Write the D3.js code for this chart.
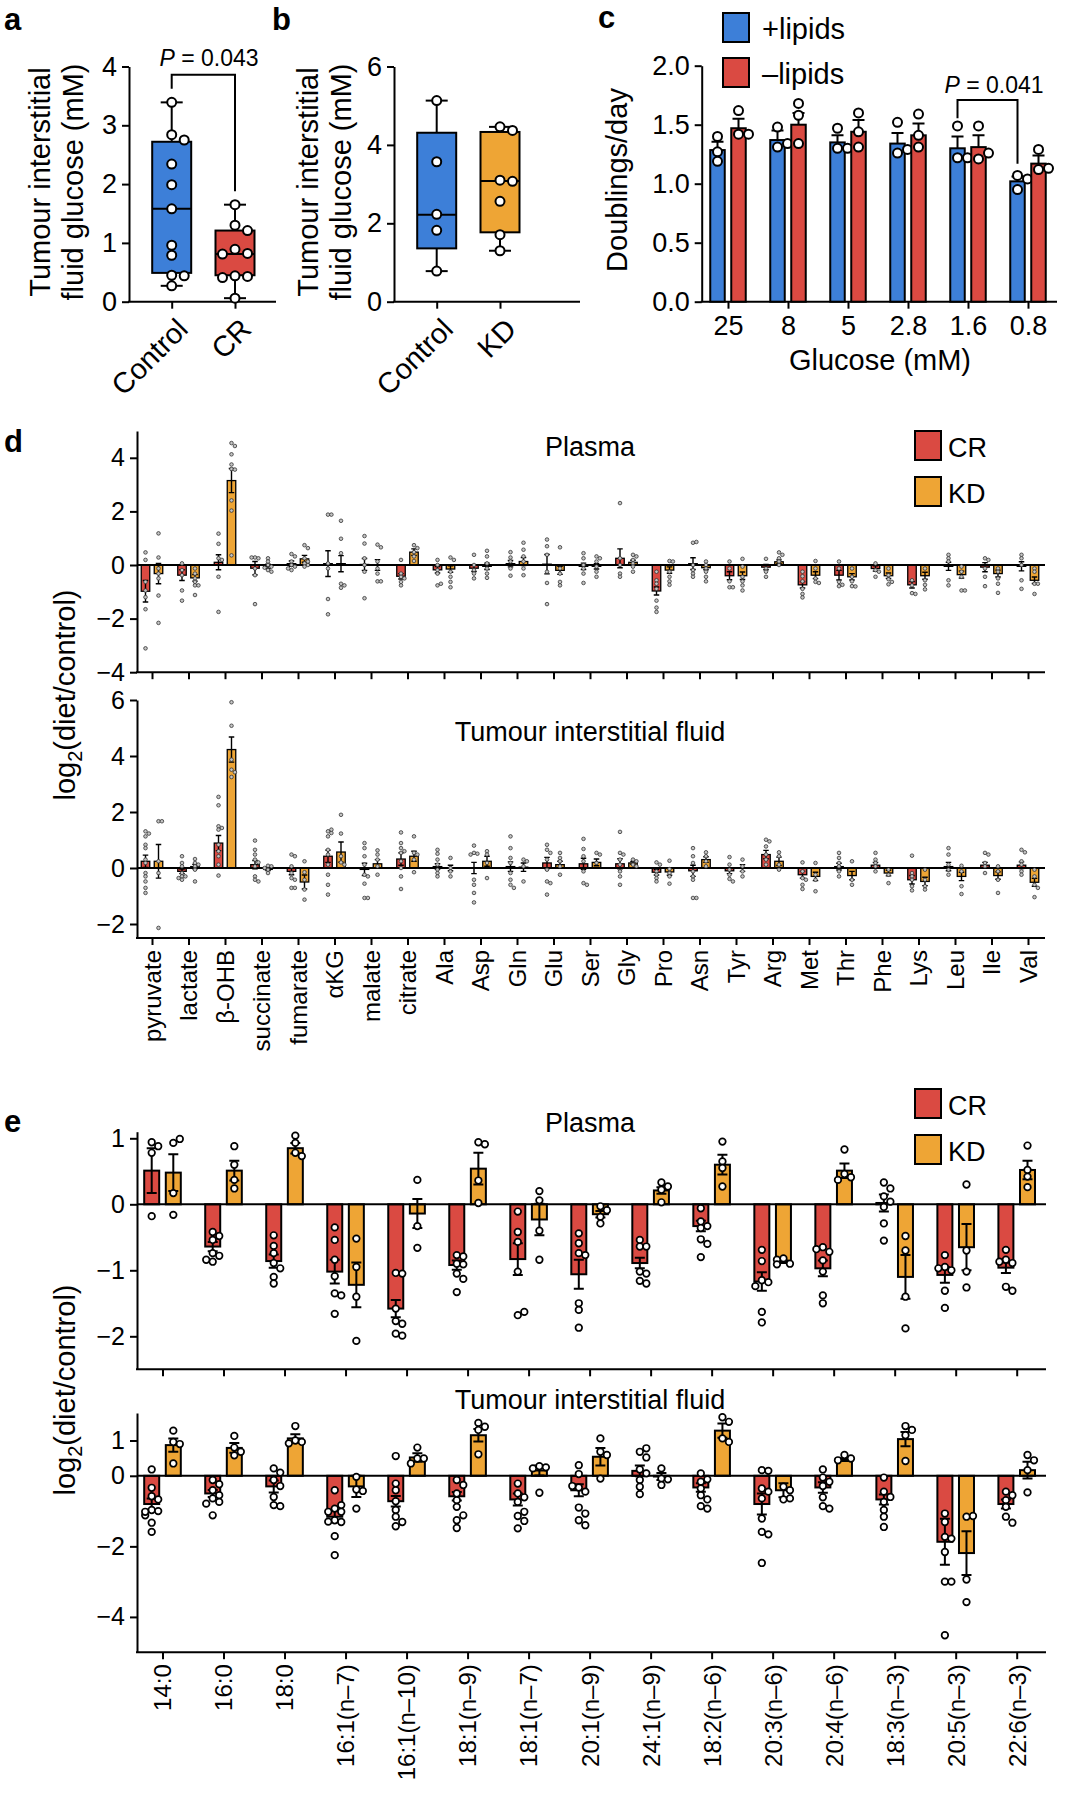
<html>
<head>
<script src="https://d3js.org/d3.v7.min.js"></script>
<style>
  body { margin: 0; background: #fff; }
</style>
</head>
<body>
<script>
// ---------- data: panel a ----------
var aGroups = ["Control", "CR"];
var aControl = [3.39, 2.84, 2.75, 2.34, 1.99, 1.58, 0.96, 0.79, 0.45, 0.44, 0.27];
var aCR = [1.65, 1.30, 1.21, 0.89, 0.82, 0.81, 0.44, 0.43, 0.41, 0.06];
var aBox = [[0.27, 0.49, 1.58, 2.72, 3.39], [0.06, 0.45, 0.81, 1.21, 1.65]]; // min q1 median q3 max
var aP = "0.043";

// ---------- data: panel b ----------
var bGroups = ["Control", "KD"];
var bControl = [5.13, 3.57, 2.23, 1.82, 0.78];
var bKD = [4.46, 4.37, 3.10, 3.07, 2.56, 1.71, 1.30];
var bBox = [[0.78, 1.36, 2.22, 4.31, 5.13], [1.30, 1.77, 3.08, 4.33, 4.46]];

// ---------- data: panel c ----------
var cGlucose = ["25", "8", "5", "2.8", "1.6", "0.8"];
var cPlusMean = [1.285, 1.37, 1.35, 1.34, 1.30, 1.02];
var cPlusSem = [0.07, 0.08, 0.06, 0.09, 0.10, 0.04];
var cPlusPts = [[1.40, 1.27, 1.19], [1.48, 1.31, 1.34], [1.47, 1.30, 1.30], [1.52, 1.26, 1.29], [1.49, 1.22, 1.22], [1.07, 1.04, 0.95]];
var cMinusMean = [1.47, 1.50, 1.44, 1.41, 1.31, 1.17];
var cMinusSem = [0.08, 0.10, 0.10, 0.10, 0.10, 0.07];
var cMinusPts = [[1.62, 1.42, 1.42], [1.68, 1.58, 1.34], [1.60, 1.44, 1.31], [1.59, 1.41, 1.31], [1.49, 1.21, 1.26], [1.29, 1.12, 1.13]];
var cP = "0.041";

// ---------- data: panel d ----------
var dCats = ["pyruvate", "lactate", "β-OHB", "succinate", "fumarate", "αKG", "malate", "citrate", "Ala", "Asp", "Gln", "Glu", "Ser", "Gly", "Pro", "Asn", "Tyr", "Arg", "Met", "Thr", "Phe", "Lys", "Leu", "Ile", "Val"];

var dPlasmaCRMean = [-0.98, -0.38, 0.10, -0.12, 0.05, 0.05, 0.02, -0.42, -0.18, -0.12, 0.05, 0.03, -0.05, 0.25, -0.97, 0.05, -0.40, -0.08, -0.74, -0.38, -0.13, -0.74, -0.05, -0.08, -0.05];
var dPlasmaCRSem = [0.40, 0.20, 0.28, 0.25, 0.10, 0.48, 0.22, 0.10, 0.12, 0.12, 0.12, 0.36, 0.12, 0.35, 0.15, 0.22, 0.15, 0.10, 0.12, 0.18, 0.10, 0.12, 0.15, 0.17, 0.17];
var dPlasmaCRPts = [
  [0.47, 0.19, -0.63, -0.95, -1.2, -1.65, -3.11], [0.06, -0.19, -0.38, -0.95, -1.33], [1.17, 0.79, 0.25, 0.19, -0.44, -1.75],
  [0.28, 0.25, 0.28, -0.13, -0.38, -1.46], [0.41, 0.32, 0.13, 0, -0.06, -0.19, -0.13], [1.88, 1.88, 0.06, -0.13, -1.27, -1.84],
  [1.08, 0.8, 0.25, 0, -0.25, -1.24], [0.19, -0.32, -0.44, -0.63, -0.76, -0.5], [0.19, 0, -0.19, -0.32, -0.76, -0.7],
  [0.38, 0, -0.19, -0.32, -0.5], [0.48, 0.28, 0.13, -0.13, -0.4], [0.95, 0.7, 0.38, -0.25, -0.67, -1.46],
  [0.44, 0.25, 0, -0.13, -0.32, -0.67], [2.31, 0.25, 0, -0.32, -0.44], [-0.25, -0.57, -0.7, -0.89, -1.33, -1.59, -1.75],
  [0.83, 0.86, 0, -0.19, -0.32, -0.44], [0.13, -0.13, -0.61, -0.83, -0.83], [0.23, -0.13, -0.25, -0.44],
  [-0.25, -0.42, -0.61, -0.89, -1.08, -1.21], [0.13, -0.13, -0.63, -0.74, -0.79], [0.06, -0.19, -0.25, -0.44],
  [-0.57, -0.76, -1.05, -1.08], [0.38, 0.25, 0.13, -0.57, -0.76], [0.25, 0.19, -0.13, -0.44, -0.79], [0.38, 0.25, 0, -0.57, -0.89]
];
var dPlasmaKDMean = [-0.32, -0.48, 3.15, -0.05, 0.23, 0.05, 0.00, 0.48, -0.15, -0.05, 0.13, -0.20, -0.05, 0.10, -0.19, -0.10, -0.40, 0.12, -0.38, -0.44, -0.40, -0.40, -0.36, -0.32, -0.57];
var dPlasmaKDSem = [0.38, 0.12, 0.45, 0.08, 0.13, 0.30, 0.20, 0.12, 0.12, 0.12, 0.15, 0.15, 0.10, 0.08, 0.12, 0.08, 0.14, 0.07, 0.13, 0.12, 0.10, 0.13, 0.13, 0.13, 0.12];
var dPlasmaKDPts = [
  [1.18, 0.28, -0.13, -0.32, -0.5, -1.14, -2.16], [-0.13, -0.32, -0.5, -0.63, -0.76, -0.76, -1.12], [4.55, 4.44, 4.13, 3.75, 3.58, 3.56, 2.41, 2.03, 0.36],
  [0.25, 0.13, 0, -0.06, -0.19, -0.25, -0.1], [0.74, 0.63, 0.25, 0.06, 0, -0.06, 0.13], [1.65, 0.98, 0.44, -0.7, -0.76, -0.85],
  [0.76, 0.66, 0.13, -0.13, -0.32, -0.61, -0.61], [0.74, 0.63, 0.48, 0.32, 0.15], [0.28, 0.19, -0.25, -0.44, -0.63, -0.83],
  [0.53, 0.32, 0.06, -0.13, -0.32, -0.48], [0.83, 0.57, 0.32, 0.13, -0.13, -0.38], [0.66, -0.13, -0.32, -0.63, -0.76],
  [0.32, 0.25, 0.13, -0.06, -0.25, -0.44], [0.38, 0.32, 0.19, 0.06, -0.06, -0.25], [0.15, 0.13, -0.25, -0.44, -0.61, -0.74],
  [0.13, 0, -0.13, -0.25, -0.44, -0.61], [0.23, -0.06, -0.44, -0.61, -0.76, -0.95], [0.47, 0.38, 0.25, 0.13, 0],
  [0.15, -0.13, -0.5, -0.63, -0.67], [-0.13, -0.44, -0.61, -0.79, -0.8], [-0.13, -0.38, -0.53, -0.63, -0.72],
  [-0.13, -0.57, -0.74, -0.91], [-0.06, -0.25, -0.44, -0.95, -0.95], [-0.13, -0.25, -0.5, -0.7, -1.04], [-0.13, -0.25, -0.7, -0.7, -1.08]
];

var dTifCRMean = [0.24, -0.12, 0.89, 0.12, -0.12, 0.42, -0.05, 0.32, 0.05, 0.00, 0.05, 0.18, 0.15, 0.15, -0.15, -0.10, -0.10, 0.48, -0.24, 0.05, 0.10, -0.42, 0.05, 0.10, 0.10];
var dTifCRSem = [0.22, 0.08, 0.27, 0.15, 0.12, 0.22, 0.22, 0.22, 0.10, 0.20, 0.17, 0.20, 0.20, 0.18, 0.10, 0.20, 0.10, 0.15, 0.12, 0.12, 0.10, 0.15, 0.15, 0.10, 0.12];
var dTifCRPts = [
  [1.31, 1.23, 1.13, 0.83, 0.71, 0.3, 0.18, -0.18, -0.3, -0.48, -0.71, -0.89], [0.42, 0.18, 0.06, -0.18, -0.3, -0.42, -0.3, -0.36],
  [2.54, 2.24, 1.49, 1.43, 1.37, 0.83, 0.6, 0.42, 0.12, -0.27], [0.98, 0.65, 0.48, 0.3, 0.2, 0.06, -0.3, -0.42, -0.48],
  [0.48, 0.42, 0.06, -0.18, -0.36, -0.42, -0.71, -0.71], [1.31, 1.25, 1.13, 1.37, 0.65, 0.48, 0.12, -0.24, -0.6, -0.95],
  [0.89, 0.71, 0.42, 0.12, -0.24, -0.3, -0.56, -1.07, -1.07], [1.27, 0.89, 0.71, 0.6, 0.54, 0.24, 0, -0.3, -0.75],
  [0.65, 0.51, 0.3, 0.12, -0.06, -0.18, -0.3], [0.8, 0.54, 0.51, 0.48, -0.42, -0.6, -0.89, -1.23],
  [1.13, 0.71, 0.36, 0.18, -0.18, -0.42, -0.6, -0.71], [0.83, 0.65, 0.54, 0.3, -0.06, -0.48, -0.54, -0.95],
  [1.04, 0.68, 0.42, 0.24, -0.12, -0.54, -0.6], [1.29, 0.54, 0.48, 0.3, 0.12, -0.12, -0.3, -0.6],
  [0.2, 0.12, -0.12, -0.24, -0.36, -0.48], [0.71, 0.42, 0.18, -0.12, -0.3, -0.42, -1.07, -1.07],
  [0.39, 0.12, -0.06, -0.24, -0.39, -0.48], [1.01, 0.95, 0.77, 0.48, 0.3, 0.12], [0.2, -0.12, -0.36, -0.42, -0.6, -0.75],
  [0.54, 0.36, 0.18, 0.06, -0.12, -0.3], [0.54, 0.3, 0.18, 0.06, -0.12], [0.44, -0.18, -0.3, -0.42, -0.65, -0.8],
  [0.71, 0.48, 0.12, -0.06, -0.24], [0.54, 0.48, 0.18, 0.06, -0.18], [0.65, 0.56, 0.24, 0.12, -0.12, -0.24]
];
var dTifKDMean = [0.24, 0.05, 4.23, -0.05, -0.50, 0.57, 0.15, 0.42, 0.00, 0.24, 0.03, 0.12, 0.20, 0.18, -0.14, 0.30, 0.00, 0.24, -0.30, -0.27, -0.18, -0.48, -0.30, -0.27, -0.51];
var dTifKDSem = [0.60, 0.08, 0.45, 0.04, 0.25, 0.36, 0.15, 0.18, 0.10, 0.18, 0.15, 0.12, 0.12, 0.05, 0.12, 0.10, 0.12, 0.15, 0.15, 0.15, 0.10, 0.15, 0.15, 0.13, 0.14];
var dTifKDPts = [
  [1.67, 1.67, 0.24, -0.18, -2.14], [0.32, 0.18, 0.12, 0.06, -0.06, -0.48], [5.92, 5.08, 3.87, 3.51, 3.42, 3.25],
  [0.08, 0.06, 0, -0.06, -0.18], [0.24, -0.15, -0.42, -0.77, -1.13], [1.9, 1.23, 0.42, 0.2, 0.12],
  [0.63, 0.48, 0.3, 0.06, -0.24], [1.13, 0.54, 0.48, 0.3, -0.15], [0.36, 0, -0.12, -0.3],
  [0.6, 0.48, 0.18, -0.36], [0.3, 0.24, 0.06, -0.48], [0.54, 0.36, 0.24, 0.06, -0.24],
  [0.54, 0.48, 0.18], [0.3, 0.24, 0.12, 0.06], [0.26, -0.04, -0.18, -0.3, -0.56],
  [0.56, 0.42, 0.24, 0.06], [0.3, 0.06, -0.12, -0.3], [0.56, 0.42, 0.12, -0.06],
  [0.18, -0.24, -0.42, -0.83], [0.24, -0.42, -0.6], [-0.06, -0.24, -0.54],
  [-0.06, -0.42, -0.65, -0.77], [0.08, -0.12, -0.65, -0.93], [0.06, -0.12, -0.42, -0.89], [-0.06, -0.3, -0.6, -0.71, -1.04]
];

// ---------- data: panel e ----------
var eCats = ["14:0", "16:0", "18:0", "16:1(n–7)", "16:1(n–10)", "18:1(n–9)", "18:1(n–7)", "20:1(n–9)", "24:1(n–9)", "18:2(n–6)", "20:3(n–6)", "20:4(n–6)", "18:3(n–3)", "20:5(n–3)", "22:6(n–3)"];

var ePlasmaCRMean = [0.51, -0.64, -0.86, -1.02, -1.58, -0.92, -0.83, -1.06, -0.89, -0.33, -1.17, -0.97, 0.02, -1.07, -0.96];
var ePlasmaCRSem = [0.34, 0.07, 0.10, 0.18, 0.13, 0.07, 0.24, 0.22, 0.08, 0.08, 0.14, 0.12, 0.13, 0.12, 0.08];
var ePlasmaCRPts = [
  [0.94, 0.88, 0.78, -0.18], [-0.42, -0.54, -0.48, -0.74, -0.78, -0.87, -0.84], [-0.47, -0.63, -0.74, -0.89, -0.97, -1.1, -1.2],
  [-0.35, -0.54, -0.84, -1.09, -1.35, -1.38, -1.66], [-1.04, -1.05, -1.58, -1.77, -1.81, -1.96, -1.99], [-0.77, -0.79, -0.9, -0.91, -1.05, -1.13, -1.33],
  [-0.11, -0.42, -0.57, -1.02, -1.68, -1.63], [-0.44, -0.59, -0.74, -0.77, -1.5, -1.6, -1.87], [-0.54, -0.64, -0.64, -1.02, -1.05, -1.16, -1.2],
  [-0.06, -0.26, -0.33, -0.36, -0.53, -0.6, -0.8], [-0.69, -0.86, -1.15, -1.18, -1.24, -1.63, -1.79], [-0.65, -0.72, -0.68, -0.85, -1.02, -1.38, -1.5],
  [0.33, 0.24, 0.12, 0.04, -0.04, -0.29, -0.55], [-0.77, -0.95, -1.0, -0.97, -1.31, -1.57], [-0.69, -0.84, -0.89, -0.87, -1.25, -1.31]
];
var ePlasmaKDMean = [0.48, 0.51, 0.85, -1.22, -0.14, 0.54, -0.23, -0.15, 0.21, 0.60, -0.87, 0.51, -1.10, -0.65, 0.52];
var ePlasmaKDSem = [0.28, 0.15, 0.08, 0.34, 0.22, 0.24, 0.24, 0.05, 0.05, 0.15, 0.02, 0.11, 0.33, 0.35, 0.14];
var ePlasmaKDPts = [
  [0.93, 0.99, 0.17, -0.16], [0.88, 0.6, 0.37, 0.24], [1.04, 0.93, 0.78, 0.73], [-0.52, -0.95, -1.4, -2.07], [0.37, -0.33, -0.66],
  [0.94, 0.91, 0.36, 0.02], [0.2, 0.06, -0.4, -0.84], [-0.03, -0.09, -0.19, -0.29], [0.33, 0.27, 0.22, 0.03], [0.95, 0.65, 0.55, 0.27],
  [-0.82, -0.9, -0.84, -0.91], [0.83, 0.46, 0.41, 0.37], [-0.48, -0.7, -1.4, -1.88], [0.3, -0.7, -1.02, -1.26], [0.89, 0.52, 0.42, 0.26]
];

var eTifCRMean = [-0.80, -0.50, -0.30, -1.16, -0.72, -0.58, -0.67, -0.41, 0.14, -0.33, -0.80, -0.33, -0.67, -1.87, -0.80];
var eTifCRSem = [0.16, 0.10, 0.17, 0.16, 0.15, 0.12, 0.17, 0.17, 0.15, 0.12, 0.30, 0.15, 0.14, 0.65, 0.13];
var eTifCRPts = [
  [0.18, -0.34, -0.58, -0.67, -0.97, -1.0, -1.12, -1.33, -1.59, -1.02], [-0.12, -0.24, -0.41, -0.55, -0.64, -0.74, -0.79, -1.12],
  [0.21, 0.09, -0.12, -0.29, -0.6, -0.83, -0.86], [-0.41, -0.93, -0.83, -1.26, -1.31, -1.71, -2.25, -1.02, -1.3, -1.02],
  [0.56, -0.22, -0.41, -0.72, -0.97, -1.16, -1.31, -1.43], [-0.12, -0.26, -0.5, -0.69, -0.88, -1.26, -1.48, -1.12],
  [-0.22, -0.5, -0.61, -0.74, -1.14, -1.28, -1.49, -1.02], [0.3, 0.05, -0.33, -0.45, -0.9, -1.07, -1.26, -1.4, -0.29],
  [0.68, 0.52, 0.78, 0.18, 0.07, -0.12, -0.31, -0.52], [0.07, -0.1, -0.17, -0.36, -0.55, -0.67, -0.86, -0.93],
  [0.16, 0.14, -0.36, -0.45, -0.64, -1.21, -1.59, -1.66, -2.47], [0.18, -0.05, -0.17, -0.29, -0.61, -0.86, -0.93],
  [-0.05, -0.45, -0.6, -0.74, -0.97, -1.16, -1.45], [-1.07, -1.31, -1.73, -2.16, -3.0, -3.0, -4.52, -1.78],
  [-0.45, -0.55, -0.69, -0.88, -1.16, -1.33]
];
var eTifKDMean = [0.87, 0.79, 1.06, -0.30, 0.52, 1.15, 0.15, 0.54, -0.02, 1.28, -0.41, 0.46, 1.04, -2.19, 0.16];
var eTifKDSem = [0.19, 0.14, 0.12, 0.30, 0.12, 0.18, 0.14, 0.25, 0.10, 0.20, 0.20, 0.04, 0.20, 0.62, 0.24];
var eTifKDPts = [
  [1.28, 0.96, 0.9, 0.35], [1.13, 0.8, 0.68, 0.58], [1.41, 1.0, 0.96, 0.92], [-0.03, -0.39, -0.43, -0.93], [0.8, 0.49, 0.49, 0.35],
  [1.5, 1.39, 1.3, 0.61], [0.27, 0.24, 0.21, -0.48], [1.06, 0.68, 0.59, -0.08], [0.21, -0.08, -0.1, -0.26], [1.66, 1.53, 1.06, 0.96],
  [-0.31, -0.41, -0.67, -0.64], [0.59, 0.49, 0.44], [1.41, 1.3, 1.15, 0.42], [-1.16, -1.14, -2.94, -3.58], [0.59, 0.44, 0.16, -0.47]
];

// ---------- setup ----------
var FONT = "'Liberation Sans', Arial, Helvetica, sans-serif";
var BLUE = "#3d7fd8", RED = "#da4a42", ORANGE = "#eea535";
var intFmt = d3.format("d");

var svg = d3.select("body").append("svg").attr("width", 1065).attr("height", 1800)
  .attr("font-family", FONT);

// simple beeswarm: returns horizontal offsets so circles do not overlap
function swarm(vals, y, r, step, maxOff) {
  var placed = [];
  return vals.map(function(v) {
    var py = y(v), off = 0, cand = [0];
    for (var k = 1; k * step <= maxOff + 0.01; k++) { cand.push(k * step, -k * step); }
    for (var i = 0; i < cand.length; i++) {
      var ok = placed.every(function(p) { return Math.hypot(p.x - cand[i], p.y - py) >= 2 * r - 0.5; });
      if (ok) { off = cand[i]; break; }
      off = cand[i % 3];
    }
    placed.push({x: off, y: py});
    return {v: v, dx: off};
  });
}

function styleAxis(a, size) {
  a.attr("font-family", null);
  a.selectAll("path, line").attr("stroke", "#000").attr("stroke-width", 2);
  a.selectAll("text").attr("font-size", size).attr("fill", "#000");
}

function yAxis(y, ticks, x, size, fmt) {
  var ax = d3.axisLeft(y).tickValues(ticks).tickSize(7).tickSizeOuter(0).tickPadding(5)
    .tickFormat(fmt || intFmt);
  var a = svg.append("g").attr("transform", "translate(" + x + ",0)").call(ax);
  styleAxis(a, size);
  return a;
}

function xAxis(x, y0, x0, x1, size, rotate, pad) {
  svg.append("line").attr("x1", x0 - 1).attr("x2", x1).attr("y1", y0).attr("y2", y0)
    .attr("stroke", "#000").attr("stroke-width", 2);
  var ax = d3.axisBottom(x).tickSize(7).tickSizeOuter(0).tickPadding(pad || 6);
  var a = svg.append("g").attr("transform", "translate(0," + y0 + ")").call(ax);
  a.select(".domain").remove();
  styleAxis(a, size);
  if (rotate) {
    a.selectAll("text").attr("transform", "rotate(-90)").attr("x", -(pad || 12)).attr("y", 0)
      .attr("dy", "0.35em").attr("text-anchor", "end");
  }
  return a;
}

function label(txt, x, y, size, opts) {
  opts = opts || {};
  var t = svg.append("text").attr("x", x).attr("y", y).attr("font-size", size)
    .attr("text-anchor", opts.anchor || "start").attr("fill", "#000").text(txt);
  if (opts.weight) t.attr("font-weight", opts.weight);
  if (opts.rot) t.attr("transform", "rotate(" + opts.rot + "," + x + "," + y + ")");
  return t;
}

function pLabel(val, x, y) {
  var t = svg.append("text").attr("x", x).attr("y", y).attr("font-size", 23).attr("text-anchor", "middle");
  t.append("tspan").attr("font-style", "italic").text("P");
  t.append("tspan").text(" = " + val);
}

function bracket(xl, xr, yTop, yl, yr) {
  svg.append("path").attr("d", "M" + xl + "," + yl + "V" + yTop + "H" + xr + "V" + yr)
    .attr("fill", "none").attr("stroke", "#000").attr("stroke-width", 2);
}

function logLabel(x, y) {
  var t = svg.append("text").attr("font-size", 29).attr("text-anchor", "middle")
    .attr("transform", "translate(" + x + "," + y + ") rotate(-90)");
  t.append("tspan").text("log");
  t.append("tspan").attr("font-size", 20).attr("dy", 7).text("2");
  t.append("tspan").attr("dy", -7).text("(diet/control)");
}

function legend(items, x, y0, gap, size, tx) {
  items.forEach(function(it, i) {
    svg.append("rect").attr("x", x).attr("y", y0 + i * gap).attr("width", 26).attr("height", 29)
      .attr("fill", it[1]).attr("stroke", "#000").attr("stroke-width", 2);
    label(it[0], x + tx, y0 + i * gap + 26, size);
  });
}

// ---------- panels a, b: box plots ----------
function boxPanel(groups, sets, boxes, colors, xr, yMax, yTicks, axisX, axisEnd) {
  var x = d3.scalePoint().domain(groups).range(xr);
  var y = d3.scaleLinear().domain([0, yMax]).range([301.7, 66.5]);
  yAxis(y, yTicks, axisX, 27);
  var a = xAxis(x, 301.7, axisX, axisEnd, 28);
  a.selectAll("text").remove();
  groups.forEach(function(gname, i) {
    var cx = x(gname), b = boxes[i], bw = 39, cw = 22;
    var g = svg.append("g");
    g.append("line").attr("x1", cx).attr("x2", cx).attr("y1", y(b[0])).attr("y2", y(b[4]))
      .attr("stroke", "#000").attr("stroke-width", 2);
    [b[0], b[4]].forEach(function(v) {
      g.append("line").attr("x1", cx - cw / 2).attr("x2", cx + cw / 2).attr("y1", y(v)).attr("y2", y(v))
        .attr("stroke", "#000").attr("stroke-width", 2);
    });
    g.append("rect").attr("x", cx - bw / 2).attr("width", bw).attr("y", y(b[3])).attr("height", y(b[1]) - y(b[3]))
      .attr("fill", colors[i]).attr("stroke", "#000").attr("stroke-width", 2);
    g.append("line").attr("x1", cx - bw / 2).attr("x2", cx + bw / 2).attr("y1", y(b[2])).attr("y2", y(b[2]))
      .attr("stroke", "#000").attr("stroke-width", 2);
    g.selectAll("circle").data(swarm(sets[i], y, 4.5, 12.5, 13)).join("circle")
      .attr("cx", function(d) { return cx + d.dx; }).attr("cy", function(d) { return y(d.v); }).attr("r", 4.5)
      .attr("fill", "#fff").attr("stroke", "#000").attr("stroke-width", 2);
    label(gname, cx + 18, 331, 29, {anchor: "end", rot: -45});
  });
  return {x: x, y: y};
}

var pa = boxPanel(aGroups, [aControl, aCR], aBox, [BLUE, RED], [171.7, 235], 4, [0, 1, 2, 3, 4], 129, 276);
bracket(pa.x("Control"), pa.x("CR"), pa.y(3.86), pa.y(3.62), pa.y(1.88));
pLabel(aP, 209, 66);
label("Tumour interstitial", 50, 182, 29, {anchor: "middle", rot: -90});
label("fluid glucose (mM)", 83, 182, 29, {anchor: "middle", rot: -90});
label("a", 4, 30, 31, {weight: "bold"});

var pb = boxPanel(bGroups, [bControl, bKD], bBox, [BLUE, ORANGE], [436.7, 500], 6, [0, 2, 4, 6], 394, 580);
label("Tumour interstitial", 318, 182, 29, {anchor: "middle", rot: -90});
label("fluid glucose (mM)", 351, 182, 29, {anchor: "middle", rot: -90});
label("b", 272, 30, 31, {weight: "bold"});

// ---------- panel c: grouped bars ----------
(function() {
  var x = d3.scalePoint().domain(cGlucose).range([728, 1028]);
  var y = d3.scaleLinear().domain([0, 2]).range([301.7, 65.7]);
  yAxis(y, [0, 0.5, 1, 1.5, 2], 701.7, 27, d3.format(".1f"));
  xAxis(x, 301.7, 701.7, 1057, 27, false, 7);
  var series = [
    {mean: cPlusMean, sem: cPlusSem, pts: cPlusPts, color: BLUE, off: -10.5},
    {mean: cMinusMean, sem: cMinusSem, pts: cMinusPts, color: RED, off: 10.5}
  ];
  var bw = 14.5;
  series.forEach(function(s) {
    var g = svg.append("g");
    g.selectAll("rect").data(cGlucose).join("rect")
      .attr("x", function(c) { return x(c) + s.off - bw / 2; })
      .attr("y", function(c, i) { return y(s.mean[i]); })
      .attr("width", bw)
      .attr("height", function(c, i) { return y(0) - y(s.mean[i]); })
      .attr("fill", s.color).attr("stroke", "#000").attr("stroke-width", 2);
    cGlucose.forEach(function(c, i) {
      var cx = x(c) + s.off, top = y(s.mean[i] + s.sem[i]);
      g.append("path").attr("d", "M" + cx + "," + y(s.mean[i]) + "V" + top + "M" + (cx - 6) + "," + top + "H" + (cx + 6))
        .attr("stroke", "#000").attr("stroke-width", 2).attr("fill", "none");
      g.selectAll(null).data(swarm(s.pts[i], y, 4.5, 10, 10)).join("circle")
        .attr("cx", function(d) { return cx + d.dx; }).attr("cy", function(d) { return y(d.v); }).attr("r", 4.5)
        .attr("fill", "#fff").attr("stroke", "#000").attr("stroke-width", 2);
    });
  });
  bracket(x("1.6") - 10.5, x("0.8") - 10.5, y(1.71), y(1.555), y(1.17));
  pLabel(cP, 994, 93);
  label("Doublings/day", 627, 180, 29, {anchor: "middle", rot: -90});
  label("Glucose (mM)", 880, 370, 29, {anchor: "middle"});
  label("c", 598, 28, 31, {weight: "bold"});
  legend([["+lipids", BLUE], ["–lipids", RED]], 723, 13, 45, 29, 39);
})();

// ---------- panels d, e: bar + scatter ----------
function barPanel(cats, x, y, series, st, xEnd) {
  series.forEach(function(s) {
    svg.append("g").selectAll("rect").data(cats).join("rect")
      .attr("x", function(c) { return x(c) + s.off - st.bw / 2; })
      .attr("y", function(c, i) { return y(Math.max(0, s.mean[i])); })
      .attr("width", st.bw)
      .attr("height", function(c, i) { return Math.abs(y(s.mean[i]) - y(0)); })
      .attr("fill", s.color).attr("stroke", "#000").attr("stroke-width", st.bsw);
  });
  series.forEach(function(s) {
    var g = svg.append("g");
    cats.forEach(function(c, i) {
      var cx = x(c) + s.off, hi = y(s.mean[i] + s.sem[i]), lo = y(s.mean[i] - s.sem[i]), h = st.cap / 2;
      g.append("path")
        .attr("d", "M" + cx + "," + hi + "V" + lo + "M" + (cx - h) + "," + hi + "H" + (cx + h) + "M" + (cx - h) + "," + lo + "H" + (cx + h))
        .attr("stroke", "#000").attr("stroke-width", st.esw).attr("fill", "none");
    });
  });
  svg.append("line").attr("x1", 137).attr("x2", xEnd).attr("y1", y(0)).attr("y2", y(0))
    .attr("stroke", "#000").attr("stroke-width", 2);
  series.forEach(function(s) {
    var g = svg.append("g");
    cats.forEach(function(c, i) {
      var cx = x(c) + s.off;
      g.selectAll(null).data(swarm(s.pts[i], y, st.r, st.step, st.maxOff)).join("circle")
        .attr("cx", function(d) { return cx + d.dx; }).attr("cy", function(d) { return y(d.v); }).attr("r", st.r)
        .attr("fill", st.pfill).attr("stroke", st.pstroke).attr("stroke-width", st.psw);
    });
  });
}

// panel d
var dx = d3.scalePoint().domain(dCats).range([152, 1028]);
var dSt = {bw: 8.5, bsw: 1.3, esw: 1.4, cap: 5.5, r: 1.8, step: 3.4, maxOff: 5, pfill: "#c4c4c4", pstroke: "#333", psw: 0.8};

var dyP = d3.scaleLinear().domain([-4, 5]).range([672.2, 431]);
yAxis(dyP, [-4, -2, 0, 2, 4], 137, 25);
xAxis(dx, 672.2, 137, 1045, 24).selectAll("text").remove();
barPanel(dCats, dx, dyP, [
  {mean: dPlasmaCRMean, sem: dPlasmaCRSem, pts: dPlasmaCRPts, color: RED, off: -6.5},
  {mean: dPlasmaKDMean, sem: dPlasmaKDSem, pts: dPlasmaKDPts, color: ORANGE, off: 6.5}
], dSt, 1045);
label("Plasma", 590, 456, 27, {anchor: "middle"});
legend([["CR", RED], ["KD", ORANGE]], 915, 431, 46, 27, 33);
label("d", 4, 452, 31, {weight: "bold"});

var dyT = d3.scaleLinear().domain([-2.5, 6]).range([938, 700]);
yAxis(dyT, [-2, 0, 2, 4, 6], 137, 25);
xAxis(dx, 938, 137, 1045, 24, true, 12);
barPanel(dCats, dx, dyT, [
  {mean: dTifCRMean, sem: dTifCRSem, pts: dTifCRPts, color: RED, off: -6.5},
  {mean: dTifKDMean, sem: dTifKDSem, pts: dTifKDPts, color: ORANGE, off: 6.5}
], dSt, 1045);
label("Tumour interstitial fluid", 590, 741, 27, {anchor: "middle"});
logLabel(75, 695);

// panel e
var ex = d3.scalePoint().domain(eCats).range([162.5, 1016.7]);
var eSt = {bw: 15, bsw: 2, esw: 2, cap: 10, r: 3.3, step: 6.5, maxOff: 7, pfill: "#fff", pstroke: "#000", psw: 1.7};

var eyP = d3.scaleLinear().domain([-2.5, 1.1]).range([1369.3, 1131.7]);
yAxis(eyP, [-2, -1, 0, 1], 137, 25);
xAxis(ex, 1369.3, 137, 1046, 24).selectAll("text").remove();
barPanel(eCats, ex, eyP, [
  {mean: ePlasmaCRMean, sem: ePlasmaCRSem, pts: ePlasmaCRPts, color: RED, off: -10.8},
  {mean: ePlasmaKDMean, sem: ePlasmaKDSem, pts: ePlasmaKDPts, color: ORANGE, off: 10.8}
], eSt, 1046);
label("Plasma", 590, 1132, 27, {anchor: "middle"});
legend([["CR", RED], ["KD", ORANGE]], 915, 1089, 46, 27, 33);
label("e", 4, 1132, 31, {weight: "bold"});

var eyT = d3.scaleLinear().domain([-5, 1.78]).range([1652.2, 1413]);
yAxis(eyT, [-4, -2, 0, 1], 137, 25);
xAxis(ex, 1652.2, 137, 1046, 24, true, 12);
barPanel(eCats, ex, eyT, [
  {mean: eTifCRMean, sem: eTifCRSem, pts: eTifCRPts, color: RED, off: -10.8},
  {mean: eTifKDMean, sem: eTifKDSem, pts: eTifKDPts, color: ORANGE, off: 10.8}
], eSt, 1046);
label("Tumour interstitial fluid", 590, 1409, 27, {anchor: "middle"});
logLabel(75, 1390);
</script>
</body>
</html>
